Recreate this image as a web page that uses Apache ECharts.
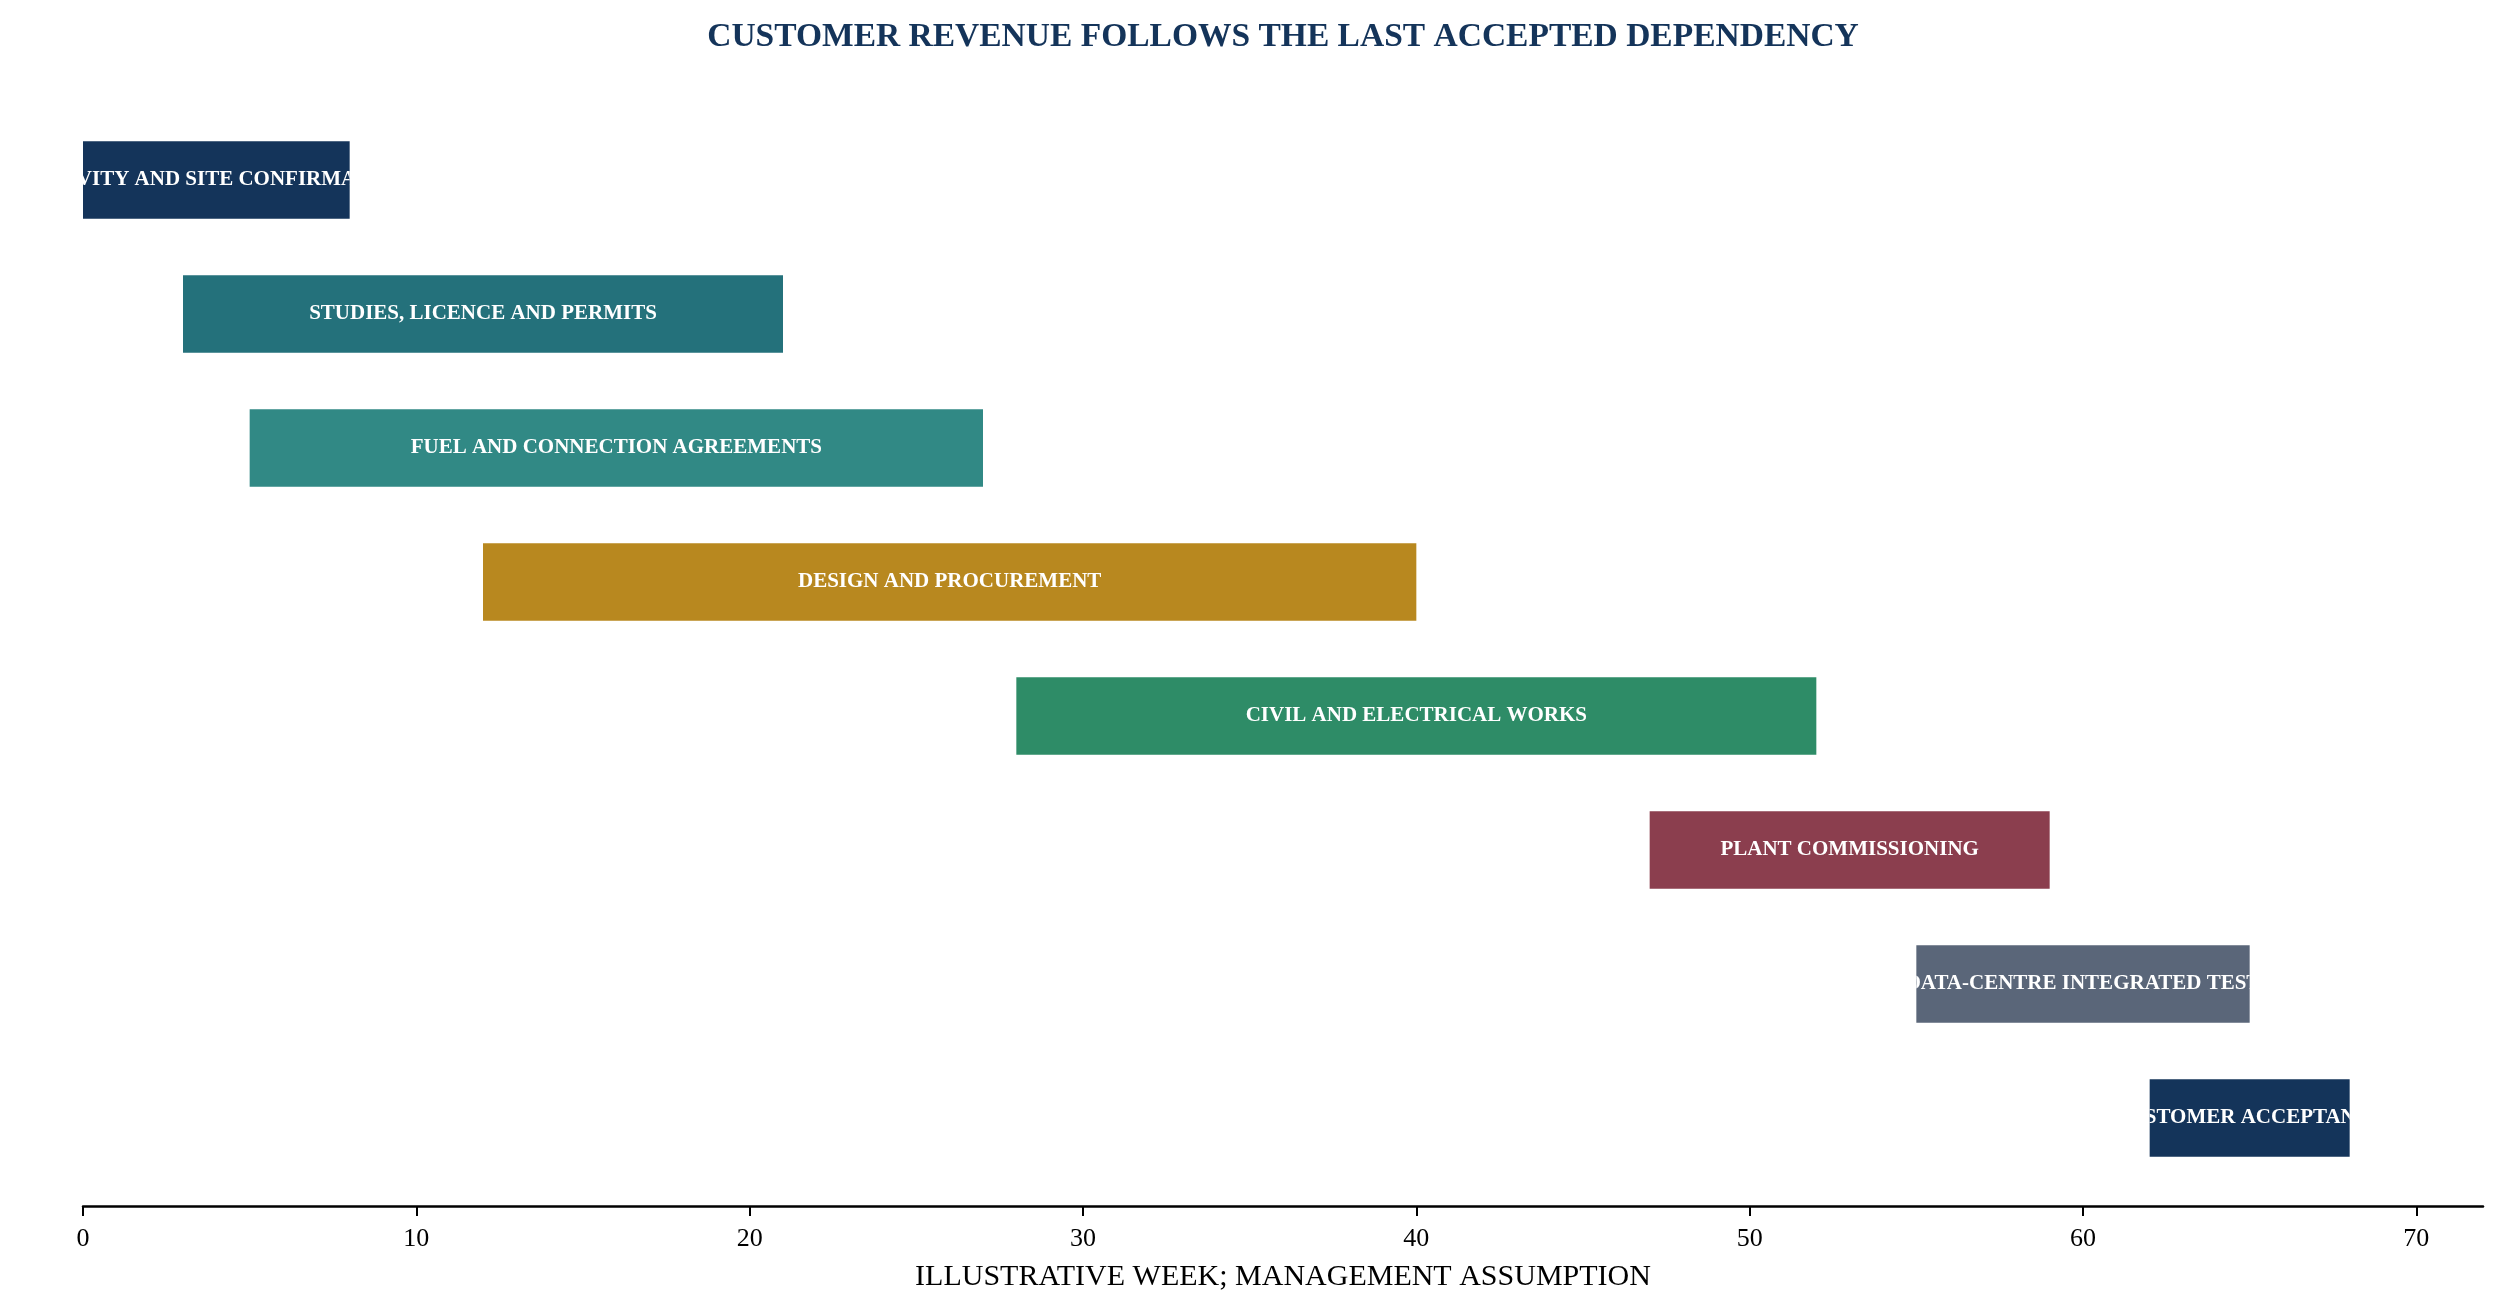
<!DOCTYPE html>
<html>
<head>
<meta charset="utf-8">
<title>Customer revenue follows the last accepted dependency</title>
<script src="https://cdn.jsdelivr.net/npm/echarts@6/dist/echarts.min.js"></script>
<style>
html,body{margin:0;padding:0;background:#fff;}
#chart1{width:2505px;height:1316px;}
</style>
</head>
<body>
<div id="chart1"></div>
<script>
var tasks = [
	'ACTIVITY AND SITE CONFIRMATION',
	'STUDIES, LICENCE AND PERMITS',
	'FUEL AND CONNECTION AGREEMENTS',
	'DESIGN AND PROCUREMENT',
	'CIVIL AND ELECTRICAL WORKS',
	'PLANT COMMISSIONING',
	'DATA-CENTRE INTEGRATED TEST',
	'CUSTOMER ACCEPTANCE'
];
var startWeek = [0, 3, 5, 12, 28, 47, 55, 62];
var endWeek = [8, 21, 27, 40, 52, 59, 65, 68];
var weekTicks = [0, 10, 20, 30, 40, 50, 60, 70];

var barColors = ['#14345a', '#24717b', '#318985', '#b8881f', '#2e8c67', '#8b3e4e', '#5a6679', '#14345a'];
var serif = '"Liberation Serif", "Times New Roman", serif';

chart1();

function chart1(){
	var myChart = echarts.init(document.getElementById('chart1'));
	var rows = [];
	for (var i = 0; i < tasks.length; i++) {
		rows.push([i, startWeek[i], endWeek[i]]);
	}

	// bar plus a label that is cut off at the bar edges
	function renderTask(params, api) {
		var i = api.value(0);
		var p0 = api.coord([api.value(1), i]);
		var p1 = api.coord([api.value(2), i]);
		var h = api.size([0, 1])[1] * 0.58;
		var box = {x: p0[0], y: p0[1] - h / 2, width: p1[0] - p0[0], height: h};
		return {
			type: 'group',
			children: [
				{type: 'rect', shape: box, style: {fill: barColors[i]}},
				{
					type: 'text',
					clipPath: {type: 'rect', shape: box},
					style: {
						x: (p0[0] + p1[0]) / 2,
						y: p0[1],
						text: tasks[params.dataIndex],
						align: 'center',
						verticalAlign: 'middle',
						fill: '#fff',
						font: 'bold 21px ' + serif
					}
				}
			]
		};
	}

	var option = {
		animation: false,
		title: {
			text: 'CUSTOMER REVENUE FOLLOWS THE LAST ACCEPTED DEPENDENCY',
			left: 1278,
			textAlign: 'center',
			top: 15,
			textStyle: {
				fontFamily: serif,
				fontWeight: 'bold',
				fontSize: 33.5,
				color: '#14345a'
			}
		},
		grid: {
			left: 83,
			right: 22,
			top: 113,
			height: 1072
		},
		xAxis: {
			type: 'value',
			min: 0,
			max: 72,
			offset: 21,
			name: 'ILLUSTRATIVE WEEK; MANAGEMENT ASSUMPTION',
			nameLocation: 'middle',
			nameGap: 56,
			nameTextStyle: {fontFamily: serif, fontSize: 30, color: '#000'},
			axisLine: {show: true, lineStyle: {color: '#000', width: 2.5}},
			axisTick: {show: true, length: 10, customValues: weekTicks, lineStyle: {color: '#000', width: 2}},
			axisLabel: {customValues: weekTicks, margin: 20, fontFamily: serif, fontSize: 26, color: '#000'},
			splitLine: {show: false}
		},
		yAxis: {
			type: 'category',
			inverse: true,
			data: tasks,
			show: false
		},
		series: [{
			type: 'custom',
			renderItem: renderTask,
			encode: {x: [1, 2], y: 0},
			clip: false,
			data: rows
		}]
	};
	myChart.setOption(option);
	window.addEventListener("resize",function() {
		myChart.resize();
	})
}
</script>
</body>
</html>
